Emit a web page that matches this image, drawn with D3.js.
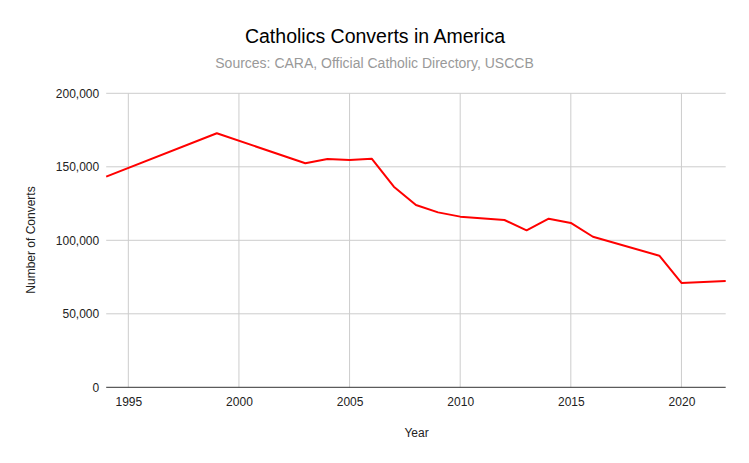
<!DOCTYPE html>
<html><head><meta charset="utf-8">
<script src="https://cdn.jsdelivr.net/npm/d3@7"></script>
<style>body{margin:0;background:#fff}svg{display:block;font-family:Arial,"Liberation Sans",sans-serif}</style>
</head><body><svg id="c" width="749" height="463"></svg>
<script>
const years = [1994, 1999, 2003, 2004, 2005, 2006, 2007, 2008, 2009, 2010, 2012, 2013, 2014, 2015, 2016, 2019, 2020, 2022];
const converts = [143300, 172800, 152400, 155300, 154600, 155500, 136500, 124000, 119000, 116100, 113800, 106800, 114700, 111800, 102400, 89500, 71000, 72300];
const xTicks = [1995, 2000, 2005, 2010, 2015, 2020];
const yTicks = [0, 50000, 100000, 150000, 200000];
const title = "Catholics Converts in America";
const subtitle = "Sources: CARA, Official Catholic Directory, USCCB";

const svg = d3.select("#c");
const L = 106.2, R = 725.7, T = 93.3, B = 387.3;
const x = d3.scaleLinear().domain([1994, 2022]).range([L, R]);
const y = d3.scaleLinear().domain([0, 200000]).range([B, T]);

svg.append("text").attr("x", 375).attr("y", 43).attr("text-anchor", "middle")
  .attr("font-size", 19.5).attr("fill", "#000").text(title);
svg.append("text").attr("x", 374.5).attr("y", 68).attr("text-anchor", "middle")
  .attr("font-size", 14).attr("fill", "#999").text(subtitle);

// gridlines
svg.append("g").selectAll("line").data(yTicks.filter(d => d > 0)).join("line")
  .attr("x1", L).attr("x2", R).attr("y1", d => y(d)).attr("y2", d => y(d))
  .attr("stroke", "#ccc").attr("stroke-width", 1);
svg.append("g").selectAll("line").data(xTicks).join("line")
  .attr("x1", d => x(d)).attr("x2", d => x(d)).attr("y1", T).attr("y2", B)
  .attr("stroke", "#ccc").attr("stroke-width", 1);

// axes
const yAxis = d3.axisLeft(y).tickValues(yTicks).tickSize(0).tickPadding(7).tickFormat(d3.format(","));
const gy = svg.append("g").attr("transform", `translate(${L},0)`).call(yAxis);
gy.select(".domain").remove();
gy.selectAll("text").attr("font-size", 12).attr("fill", "#222").attr("font-family", "Arial, 'Liberation Sans', sans-serif");

const xAxis = d3.axisBottom(x).tickValues(xTicks).tickSize(0).tickPadding(10).tickFormat(d3.format("d"));
const gx = svg.append("g").attr("transform", `translate(0,${B})`).call(xAxis);
gx.select(".domain").remove();
gx.selectAll("text").attr("font-size", 12).attr("fill", "#222").attr("font-family", "Arial, 'Liberation Sans', sans-serif");

svg.append("line").attr("x1", L).attr("x2", R).attr("y1", B).attr("y2", B)
  .attr("stroke", "#333").attr("stroke-width", 1);

svg.append("text").attr("x", 416.5).attr("y", 437).attr("text-anchor", "middle")
  .attr("font-size", 12).attr("fill", "#222").text("Year");
svg.append("text").attr("transform", "translate(34.5,240) rotate(-90)").attr("text-anchor", "middle")
  .attr("font-size", 12).attr("fill", "#222").text("Number of Converts");

const line = d3.line().x((d, i) => x(years[i])).y(d => y(d));
svg.append("path").datum(converts).attr("d", line).attr("fill", "none")
  .attr("stroke", "#ff0000").attr("stroke-width", 2).attr("stroke-linejoin", "round");
</script></body></html>
